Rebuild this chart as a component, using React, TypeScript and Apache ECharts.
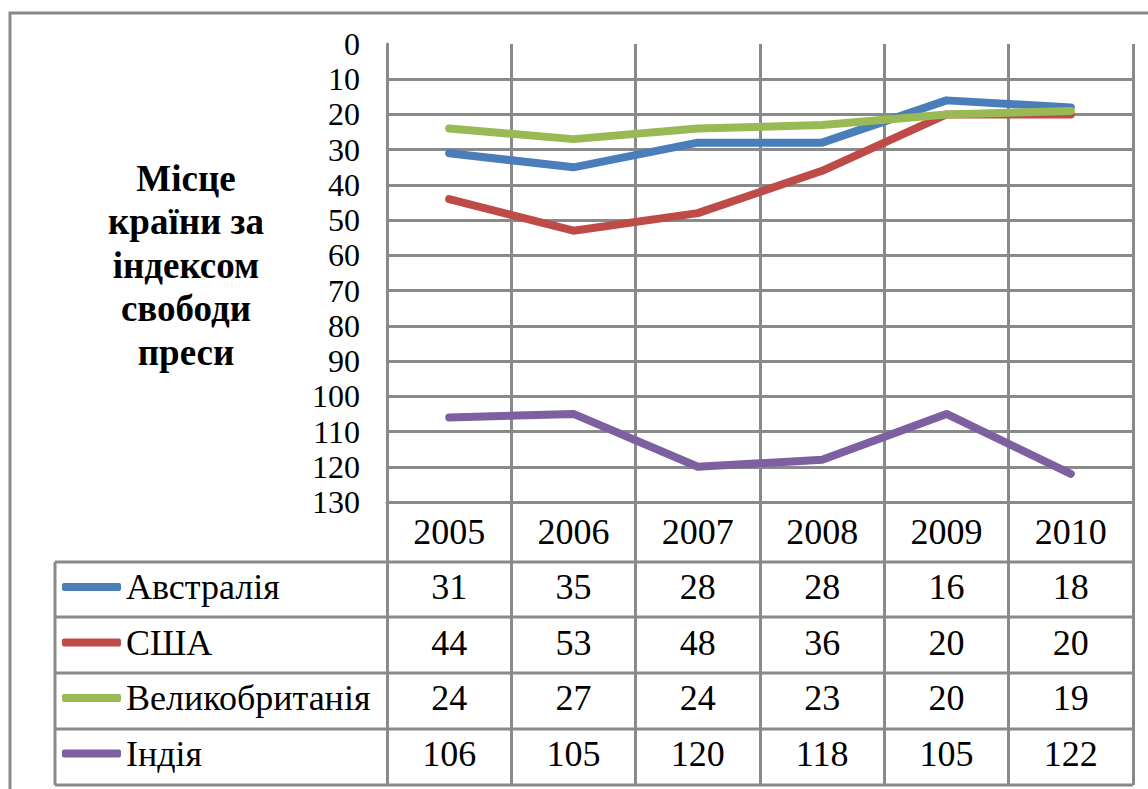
import React, { useEffect, useRef } from "react";
import * as echarts from "echarts";

const years = ["2005", "2006", "2007", "2008", "2009", "2010"];
const seriesNames = ["Австралія", "США", "Великобританія", "Індія"];
const australia = [31, 35, 28, 28, 16, 18];
const usa = [44, 53, 48, 36, 20, 20];
const uk = [24, 27, 24, 23, 20, 19];
const india = [106, 105, 120, 118, 105, 122];
const seriesValues = [australia, usa, uk, india];
const seriesColors = ["#4A7EBB", "#BE4B48", "#98B954", "#7D60A0"];
const yTitle = "Місце\nкраїни за\nіндексом\nсвободи\nпреси";

const FONT = "Liberation Serif";
const GRID = "#8a8a8a";
const rowOffsets = [55, 111, 166, 222];
const TFS = 36;

export default function App() {
  const ref = useRef<HTMLDivElement>(null);
  useEffect(() => {
    if (!ref.current) return;
    const chart = echarts.init(ref.current, undefined, { renderer: "svg" });
    const gridLine = { color: GRID, width: 3 };
    const xAxes: any[] = [
      {
        type: "category",
        data: years,
        position: "bottom",
        boundaryGap: true,
        axisLine: { show: true, onZero: false, lineStyle: gridLine },
        axisTick: { show: true, length: 283, alignWithLabel: false, lineStyle: gridLine },
        axisLabel: { fontSize: TFS, fontFamily: FONT, color: "#000", margin: 12, lineHeight: TFS },
        splitLine: { show: true, lineStyle: gridLine },
      },
    ];
    seriesValues.forEach((vals, k) => {
      xAxes.push({
        type: "category",
        data: years,
        position: "bottom",
        offset: rowOffsets[k],
        boundaryGap: true,
        axisLine: { show: false, onZero: false },
        axisTick: { show: false },
        splitLine: { show: false },
        axisLabel: {
          fontSize: TFS,
          fontFamily: FONT,
          color: "#000",
          margin: 12,
          lineHeight: TFS,
          interval: 0,
          formatter: (_v: string, i: number) => String(vals[i]),
        },
      });
    });
    chart.setOption({
      animation: false,
      backgroundColor: "#fff",
      textStyle: { fontFamily: FONT },
      grid: { left: 387, top: 44, width: 746, height: 458, containLabel: false },
      xAxis: xAxes,
      yAxis: {
        type: "value",
        inverse: true,
        min: 0,
        max: 130,
        interval: 10,
        axisLine: { show: true, lineStyle: gridLine },
        axisTick: { show: false },
        axisLabel: { fontSize: 32, fontFamily: FONT, color: "#000", margin: 27 },
        splitLine: { show: true, showMinLine: false, lineStyle: gridLine },
      },
      legend: {
        data: seriesNames,
        orient: "vertical",
        left: 62,
        top: 569,
        padding: 0,
        itemWidth: 59,
        itemHeight: 8,
        itemGap: 55.5 - TFS,
        icon: "roundRect",
        selectedMode: false,
        textStyle: { fontSize: TFS, fontFamily: FONT, color: "#000", lineHeight: TFS },
      },
      graphic: [
        { type: "rect", shape: { x: 10, y: 13, width: 1400, height: 1000 }, style: { fill: "none", stroke: GRID, lineWidth: 3 }, z: 0 },
        ...[562, 617, 673, 729, 785].map((y) => ({
          type: "line",
          shape: { x1: 55, y1: y, x2: 1133, y2: y },
          style: { stroke: GRID, lineWidth: 3 },
        })),
        { type: "line", shape: { x1: 55, y1: 562, x2: 55, y2: 785 }, style: { stroke: GRID, lineWidth: 3 } },
        {
          type: "text",
          x: 186,
          y: 265,
          style: {
            text: yTitle,
            font: "bold 37px Liberation Serif",
            lineHeight: 43.5,
            fill: "#000",
            align: "center",
            verticalAlign: "middle",
          },
        },
      ],
      series: seriesNames.map((name, k) => ({
        name,
        type: "line",
        xAxisIndex: 0,
        data: seriesValues[k],
        symbol: "none",
        itemStyle: { color: seriesColors[k] },
        lineStyle: { width: 8, color: seriesColors[k], cap: "round", join: "round" },
      })),
    });
    return () => chart.dispose();
  }, []);
  return (
    <div
      ref={ref}
      style={{ position: "fixed", left: 0, top: 0, width: 1148, height: 789, background: "#fff" }}
    />
  );
}
